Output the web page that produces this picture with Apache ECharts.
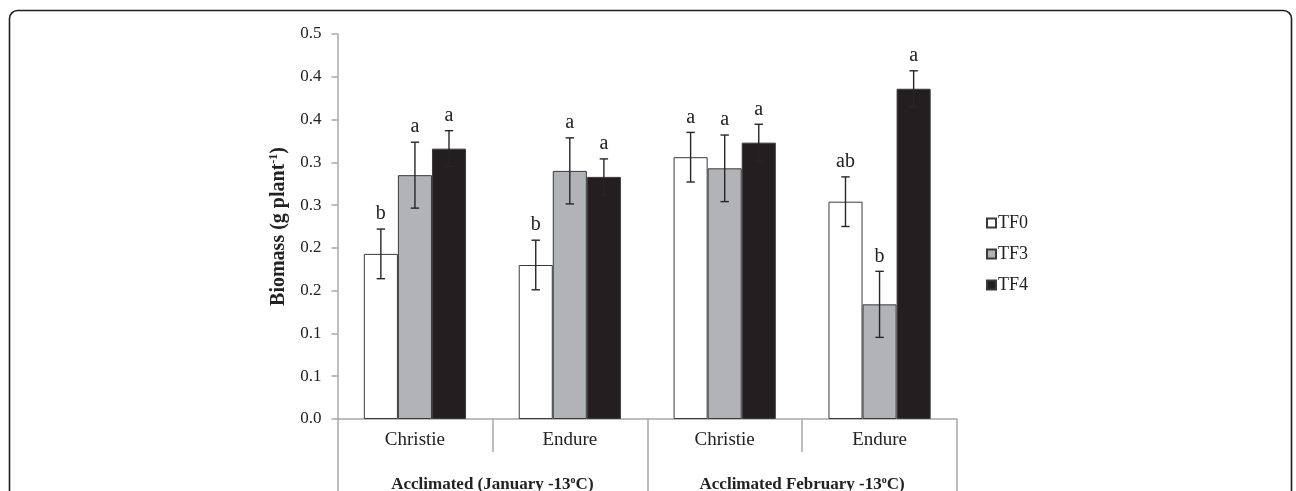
<!DOCTYPE html>
<html>
<head>
<meta charset="utf-8">
<script src="https://cdn.jsdelivr.net/npm/echarts@6/dist/echarts.min.js"></script>
<style>
  html, body { margin: 0; padding: 0; background: #fff; }
  #chart { width: 1296px; height: 491px; }
</style>
</head>
<body>
<div id="chart"></div>
<script>
// Cultivars within each acclimation period
const cultivars = ['Christie', 'Endure', 'Christie', 'Endure'];
const periods = ['Acclimated (January -13{sup|o}C)', 'Acclimated February -13{sup|o}C)'];
const seriesNames = ['TF0', 'TF3', 'TF4'];

// Mean biomass (g plant-1)
const tf0 = [0.193, 0.180, 0.306, 0.254];
const tf3 = [0.285, 0.290, 0.293, 0.134];
const tf4 = [0.316, 0.283, 0.323, 0.386];

// Standard error of each mean
const tf0Err = [0.029, 0.029, 0.029, 0.029];
const tf3Err = [0.0385, 0.0386, 0.0389, 0.0386];
const tf4Err = [0.021, 0.021, 0.0215, 0.021];

// Mean separation letters
const tf0Letters = ['b', 'b', 'a', 'ab'];
const tf3Letters = ['a', 'a', 'a', 'b'];
const tf4Letters = ['a', 'a', 'a', 'a'];

// Y tick labels (0.05 steps shown rounded to one decimal)
const yTickLabels = ['0.0', '0.1', '0.1', '0.2', '0.2', '0.3', '0.3', '0.4', '0.4', '0.5'];

const means = [tf0, tf3, tf4];
const errs = [tf0Err, tf3Err, tf4Err];
const letters = [tf0Letters, tf3Letters, tf4Letters];
const fills = ['#ffffff', '#b2b3b7', '#231f20'];

const FONT = '"Liberation Serif", "Times New Roman", serif';
const AXIS_COLOR = '#a8a8a8';
const CAT_GAP = 0.34;

const chart = echarts.init(document.getElementById('chart'), null, { renderer: 'canvas' });

const barSeries = seriesNames.map((name, s) => ({
  name: name,
  type: 'bar',
  xAxisIndex: 0,
  data: means[s],
  barGap: '0%',
  barCategoryGap: (CAT_GAP * 100) + '%',
  itemStyle: { color: fills[s], borderColor: '#3a3a3a', borderWidth: 1 },
  emphasis: { disabled: true },
  z: 2
}));

// Error bars with letters, placed over each bar of series s
const errSeries = seriesNames.map((name, s) => ({
  type: 'custom',
  xAxisIndex: 0,
  data: means[s].map((m, i) => [i, m, errs[s][i]]),
  z: 5,
  silent: true,
  renderItem: function (params, api) {
    const i = api.value(0);
    const m = api.value(1);
    const e = api.value(2);
    const letter = letters[s][i];
    const catW = api.size([1, 0])[0];
    const barW = catW * (1 - CAT_GAP) / 3;
    const center = api.coord([i, m]);
    const x = center[0] + (s - 1) * barW;
    const top = api.coord([i, m + e])[1];
    const bot = api.coord([i, m - e])[1];
    const cap = 4.2;
    const st = { stroke: '#262626', lineWidth: 1.4 };
    return {
      type: 'group',
      children: [
        { type: 'line', shape: { x1: x, y1: top, x2: x, y2: bot }, style: st },
        { type: 'line', shape: { x1: x - cap, y1: top, x2: x + cap, y2: top }, style: st },
        { type: 'line', shape: { x1: x - cap, y1: bot, x2: x + cap, y2: bot }, style: st },
        {
          type: 'text',
          x: x, y: top - 5,
          style: {
            text: letter, fill: '#222', font: '20px ' + FONT,
            align: 'center', verticalAlign: 'bottom'
          }
        }
      ]
    };
  }
}));

const option = {
  animation: false,
  backgroundColor: '#ffffff',
  graphic: [{
    type: 'rect',
    shape: { x: 9.5, y: 10.5, width: 1282, height: 520, r: 8 },
    style: { fill: 'none', stroke: '#1e1e1e', lineWidth: 1.6 },
    silent: true,
    z: -1
  }],
  legend: {
    data: seriesNames,
    orient: 'vertical',
    left: 986,
    top: 214,
    padding: 0,
    itemWidth: 9,
    itemHeight: 9,
    itemGap: 13,
    icon: 'rect',
    selectedMode: false,
    textStyle: { fontFamily: FONT, fontSize: 18, color: '#222', padding: [0, 0, 0, -3] }
  },
  grid: {
    left: 337.5, right: 339, top: 34, bottom: 72,
    containLabel: false, outerBoundsMode: 'none'
  },
  xAxis: [
    {
      type: 'category',
      data: cultivars,
      position: 'bottom',
      boundaryGap: true,
      axisLine: { show: true, lineStyle: { color: AXIS_COLOR, width: 1.5 } },
      axisTick: { show: true, inside: false, length: 33, lineStyle: { color: AXIS_COLOR, width: 1.5 } },
      axisLabel: { interval: 0, fontFamily: FONT, fontSize: 19, color: '#222', margin: 12 }
    },
    {
      type: 'category',
      data: periods,
      position: 'bottom',
      boundaryGap: true,
      axisLine: { show: false },
      axisTick: { show: true, interval: 0, inside: false, length: 72, lineStyle: { color: AXIS_COLOR, width: 1.5 } },
      axisLabel: {
        interval: 0, hideOverlap: false,
        fontFamily: FONT, fontSize: 17, fontWeight: 'bold', color: '#222', margin: 56,
        rich: {
          sup: { fontFamily: FONT, fontSize: 10, fontWeight: 'bold', color: '#222', padding: [0, 0, 10, 0] }
        }
      }
    }
  ],
  yAxis: {
    type: 'value',
    min: 0,
    max: 0.45,
    interval: 0.05,
    name: 'Biomass (g plant{sup|-1})',
    nameLocation: 'middle',
    nameRotate: 90,
    nameGap: 48,
    nameTextStyle: {
      fontFamily: FONT, fontSize: 20, fontWeight: 'bold', color: '#222',
      rich: { sup: { fontFamily: FONT, fontSize: 12, fontWeight: 'bold', color: '#222', padding: [0, 0, 10, 0] } }
    },
    axisLine: { show: true, lineStyle: { color: AXIS_COLOR, width: 1.5 } },
    axisTick: { show: true, inside: false, length: 6, lineStyle: { color: AXIS_COLOR, width: 1.5 } },
    splitLine: { show: false },
    axisLabel: {
      fontFamily: FONT, fontSize: 17, color: '#222', margin: 16,
      formatter: function (v) { return yTickLabels[Math.round(v / 0.05)]; }
    }
  },
  series: barSeries.concat(errSeries)
};

chart.setOption(option);
</script>
</body>
</html>
